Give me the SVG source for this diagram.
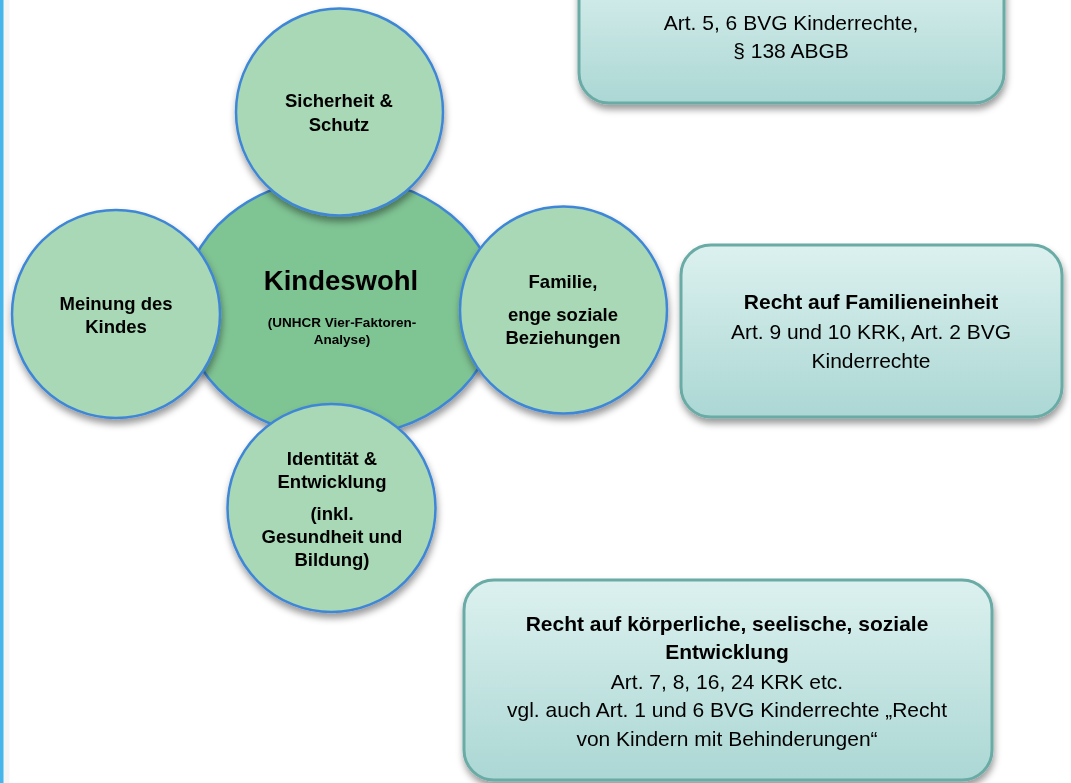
<svg xmlns="http://www.w3.org/2000/svg" width="1071" height="783" viewBox="0 0 1071 783">
<style>
.c{fill:#a8d8b5;stroke:#3f86d6;stroke-width:2.5}
.big{fill:#7fc493;stroke:#3f86d6;stroke-width:2.5}
.box{fill:url(#bg);stroke:#6aaba6;stroke-width:3}
text{font-family:"Liberation Sans",Arial,sans-serif;fill:#000;text-anchor:middle}
.b{font-weight:bold;font-size:18.5px}
.t{font-size:21px}
.tb{font-size:21px;font-weight:bold}
</style>
<defs>
<linearGradient id="bg" x1="0" y1="0" x2="0" y2="1">
<stop offset="0" stop-color="#dcf1ef"/>
<stop offset="1" stop-color="#abd7d4"/>
</linearGradient>
<filter id="sh" x="-20%" y="-20%" width="140%" height="150%">
<feDropShadow dx="1" dy="5" stdDeviation="3.5" flood-color="#000" flood-opacity="0.4"/>
</filter>
</defs>
<rect x="0" y="0" width="3.5" height="783" fill="#45b5ea"/>
<rect x="3.5" y="0" width="6" height="783" fill="#000" opacity="0.04"/>
<g id="box-top" filter="url(#sh)">
<rect class="box" x="579" y="-40" width="425" height="143" rx="30"/>
<text class="t" x="791" y="30">Art. 5, 6 BVG Kinderrechte,</text>
<text class="t" x="791" y="58">§ 138 ABGB</text>
</g>
<g id="box-familie" filter="url(#sh)">
<rect class="box" x="681" y="245" width="381" height="172" rx="30"/>
<text class="tb" x="871" y="309">Recht auf Familieneinheit</text>
<text class="t" x="871" y="339">Art. 9 und 10 KRK, Art. 2 BVG</text>
<text class="t" x="871" y="368">Kinderrechte</text>
</g>
<g id="box-entwicklung" filter="url(#sh)">
<rect class="box" x="464" y="580" width="528" height="200" rx="30"/>
<text class="tb" x="727" y="631">Recht auf körperliche, seelische, soziale</text>
<text class="tb" x="727" y="659">Entwicklung</text>
<text class="t" x="727" y="689">Art. 7, 8, 16, 24 KRK etc.</text>
<text class="t" x="727" y="717">vgl. auch Art. 1 und 6 BVG Kinderrechte „Recht</text>
<text class="t" x="727" y="746">von Kindern mit Behinderungen“</text>
</g>
<g id="kindeswohl" filter="url(#sh)">
<ellipse class="big" cx="340" cy="307" rx="157" ry="130"/>
<text x="341" y="290" style="font-weight:bold;font-size:27.5px">Kindeswohl</text>
<text x="342" y="327" style="font-weight:bold;font-size:13.5px">(UNHCR Vier-Faktoren-</text>
<text x="342" y="344" style="font-weight:bold;font-size:13.5px">Analyse)</text>
</g>
<g id="sicherheit" filter="url(#sh)">
<circle class="c" cx="339.5" cy="112" r="103.5"/>
<text class="b" x="339" y="107">Sicherheit &amp;</text>
<text class="b" x="339" y="131">Schutz</text>
</g>
<g id="meinung" filter="url(#sh)">
<circle class="c" cx="116" cy="314" r="104"/>
<text class="b" x="116" y="310">Meinung des</text>
<text class="b" x="116" y="333">Kindes</text>
</g>
<g id="familie" filter="url(#sh)">
<circle class="c" cx="563.5" cy="310" r="103.5"/>
<text class="b" x="563" y="288">Familie,</text>
<text class="b" x="563" y="321">enge soziale</text>
<text class="b" x="563" y="344">Beziehungen</text>
</g>
<g id="identitaet" filter="url(#sh)">
<circle class="c" cx="331.5" cy="508" r="104"/>
<text class="b" x="332" y="465">Identität &amp;</text>
<text class="b" x="332" y="488">Entwicklung</text>
<text class="b" x="332" y="520">(inkl.</text>
<text class="b" x="332" y="543">Gesundheit und</text>
<text class="b" x="332" y="566">Bildung)</text>
</g>
<g id="connectors"></g>
</svg>
